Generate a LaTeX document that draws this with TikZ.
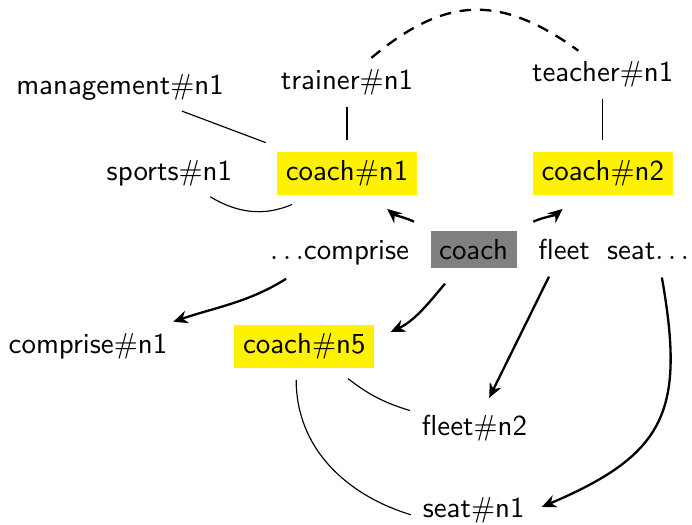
\documentclass[tikz,border=0pt]{standalone}
\usepackage{xcolor}
\usepackage{tikz}
\usetikzlibrary{arrows.meta}
\tikzset{
  >={Stealth[length=5pt,width=4.4pt]},
  wnode/.style    ={font=\sffamily,inner sep=3pt,anchor=base},
  sensenode/.style={wnode,fill=yellow,outer sep=3pt},
  tgtnode/.style  ={wnode,fill=gray,outer sep=3pt},
  rel/.style      ={draw=black,thin,shorten <=1pt,shorten >=1pt},
  sim/.style      ={draw=black,thick,dash pattern=on 4pt off 3pt,shorten <=1pt,shorten >=1pt},
  dep/.style      ={->,draw=black,thick,shorten <=3pt,shorten >=3pt},
}

\begin{document}
\begin{tikzpicture}[x=1cm,y=1cm]
\useasboundingbox (0,0) rectangle (8.415,6.384);
% ---- sense layer
\node[wnode] (mgmt)    at (1.46,5.23) {management$\#$n1};
\node[wnode] (trainer) at (4.22,5.30) {trainer$\#$n1};
\node[wnode] (teacher) at (7.33,5.39) {teacher$\#$n1};
\node[wnode] (sports)  at (2.06,4.19) {sports$\#$n1};
\node[sensenode] (cn1) at (4.22,4.19) {coach$\#$n1};
\node[sensenode] (cn2) at (7.33,4.19) {coach$\#$n2};

% ---- sentence
\node[wnode] (comprise) at (4.13,3.23) {$\ldots$comprise};
\node[tgtnode] (coach)  at (5.76,3.23) {coach};
\node[wnode] (fleet)    at (6.86,3.23) {fleet};
\node[wnode] (seat)     at (7.88,3.23) {seat$\ldots$};

% ---- lower senses
\node[wnode] (comprisen1) at (1.07,2.08) {comprise$\#$n1};
\node[sensenode] (cn5)    at (3.70,2.08) {coach$\#$n5};
\node[wnode] (fleetn2)    at (5.77,1.09) {fleet$\#$n2};
\node[wnode] (seatn1)     at (5.76,0.09) {seat$\#$n1};

% ---- relations
\draw[rel] (mgmt) -- (cn1);
\draw[rel] (trainer) -- (cn1);
\draw[rel] (teacher) -- (cn2);
\draw[rel] (sports.-30) to[out=-31,in=-157] (cn1.-150);
\draw[sim] (trainer.45) to[out=40,in=144,looseness=1.2] (teacher.135);
\draw[rel] (cn5.-36) to[out=-38,in=163] (fleetn2.165);
\draw[rel] (cn5.-105) to[out=-90,in=163] (seatn1.-175);

% ---- arrows
\draw[dep] (coach) to[out=155,in=-40] (cn1.-42);
\draw[dep] (coach) to[out=25,in=-140] (cn2.-138);
\draw[dep] (coach) to[out=-130,in=25] (cn5.8);
\draw[dep] (comprise.-155) to[out=-148,in=19] (comprisen1.16);
\draw[dep] (fleet.-120) -- (fleetn2.64);
\draw[dep] (seat.-55) to[out=-80,in=23,looseness=1.35] (seatn1.east);
\end{tikzpicture}
\end{document}
